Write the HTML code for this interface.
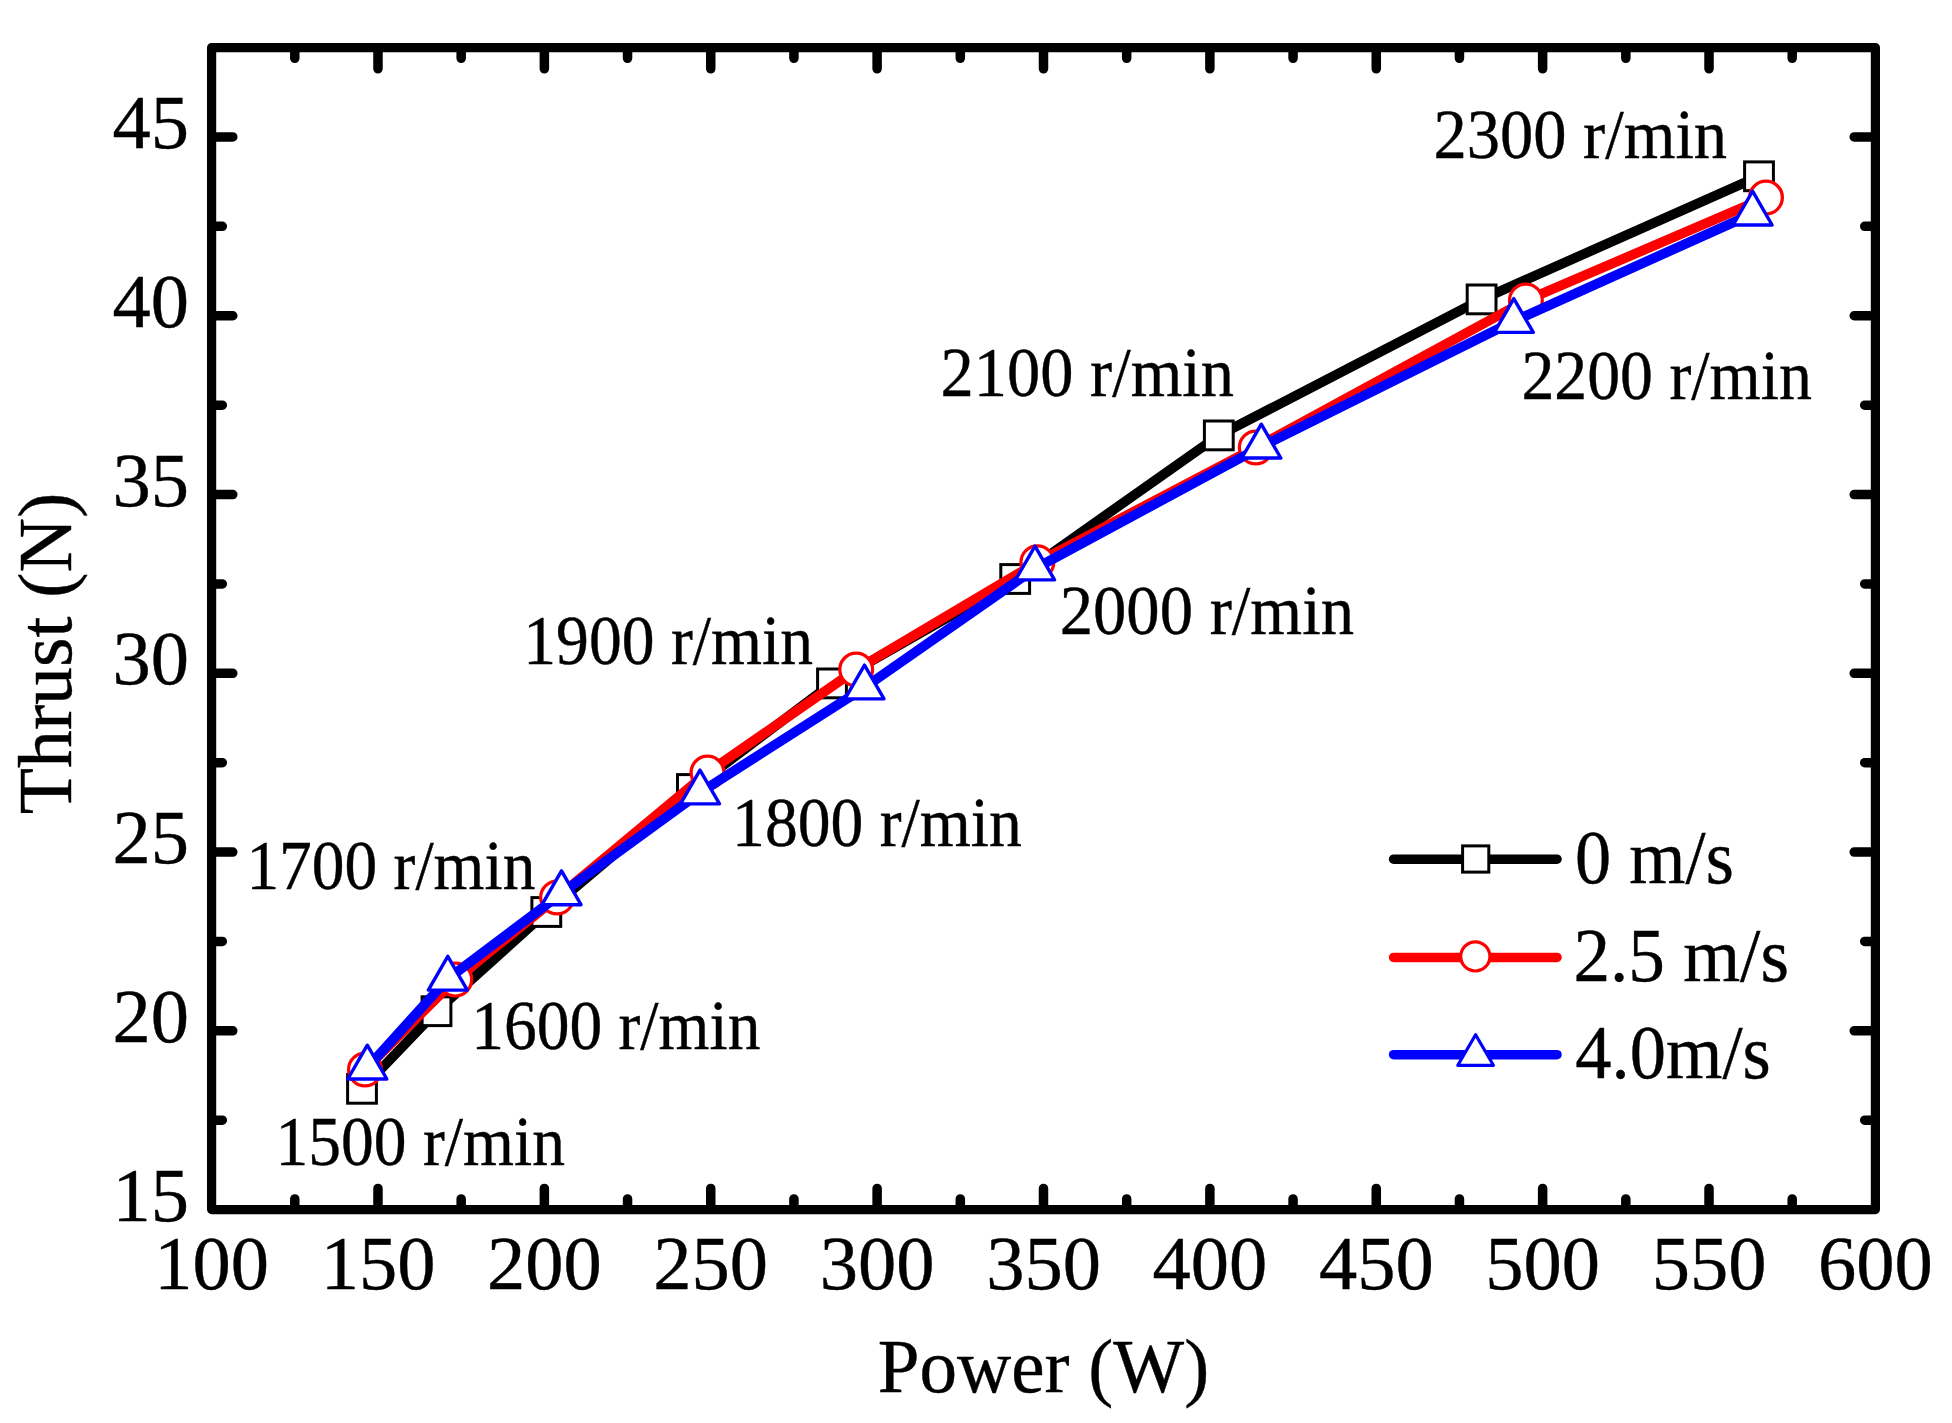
<!DOCTYPE html>
<html lang="en"><head><meta charset="utf-8"><title>Thrust vs Power</title>
<style>html,body{margin:0;padding:0;background:#fff}body{width:1952px;height:1423px;overflow:hidden}svg{display:block}text{font-family:"Liberation Serif","Times New Roman",serif;fill:#000;stroke:#000;stroke-width:0.4px}</style></head><body>
<svg width="1952" height="1423" viewBox="0 0 1952 1423">
<rect width="1952" height="1423" fill="#fff"/>
<g stroke="#000" stroke-width="9.5" stroke-linecap="round" fill="none">
<path d="M294.79 1208.60V1198.90M294.79 48.60V58.30"/>
<path d="M377.98 1208.60V1188.40M377.98 48.60V68.80"/>
<path d="M461.17 1208.60V1198.90M461.17 48.60V58.30"/>
<path d="M544.36 1208.60V1188.40M544.36 48.60V68.80"/>
<path d="M627.55 1208.60V1198.90M627.55 48.60V58.30"/>
<path d="M710.74 1208.60V1188.40M710.74 48.60V68.80"/>
<path d="M793.93 1208.60V1198.90M793.93 48.60V58.30"/>
<path d="M877.12 1208.60V1188.40M877.12 48.60V68.80"/>
<path d="M960.31 1208.60V1198.90M960.31 48.60V58.30"/>
<path d="M1043.50 1208.60V1188.40M1043.50 48.60V68.80"/>
<path d="M1126.69 1208.60V1198.90M1126.69 48.60V58.30"/>
<path d="M1209.88 1208.60V1188.40M1209.88 48.60V68.80"/>
<path d="M1293.07 1208.60V1198.90M1293.07 48.60V58.30"/>
<path d="M1376.26 1208.60V1188.40M1376.26 48.60V68.80"/>
<path d="M1459.45 1208.60V1198.90M1459.45 48.60V58.30"/>
<path d="M1542.64 1208.60V1188.40M1542.64 48.60V68.80"/>
<path d="M1625.83 1208.60V1198.90M1625.83 48.60V58.30"/>
<path d="M1709.02 1208.60V1188.40M1709.02 48.60V68.80"/>
<path d="M1792.21 1208.60V1198.90M1792.21 48.60V58.30"/>
<path d="M212.60 1120.22H222.30M1874.40 1120.22H1864.70"/>
<path d="M212.60 1030.83H232.80M1874.40 1030.83H1854.20"/>
<path d="M212.60 941.45H222.30M1874.40 941.45H1864.70"/>
<path d="M212.60 852.06H232.80M1874.40 852.06H1854.20"/>
<path d="M212.60 762.68H222.30M1874.40 762.68H1864.70"/>
<path d="M212.60 673.29H232.80M1874.40 673.29H1854.20"/>
<path d="M212.60 583.91H222.30M1874.40 583.91H1864.70"/>
<path d="M212.60 494.52H232.80M1874.40 494.52H1854.20"/>
<path d="M212.60 405.14H222.30M1874.40 405.14H1864.70"/>
<path d="M212.60 315.75H232.80M1874.40 315.75H1854.20"/>
<path d="M212.60 226.37H222.30M1874.40 226.37H1864.70"/>
<path d="M212.60 136.98H232.80M1874.40 136.98H1854.20"/>
</g>
<rect x="211.60" y="47.60" width="1663.80" height="1162.00" fill="none" stroke="#000" stroke-width="9.2" stroke-linejoin="round"/>
<g font-size="76.5" text-anchor="middle">
<text x="211.6" y="1289">100</text>
<text x="378.0" y="1289">150</text>
<text x="544.4" y="1289">200</text>
<text x="710.7" y="1289">250</text>
<text x="877.1" y="1289">300</text>
<text x="1043.5" y="1289">350</text>
<text x="1209.9" y="1289">400</text>
<text x="1376.3" y="1289">450</text>
<text x="1542.6" y="1289">500</text>
<text x="1709.0" y="1289">550</text>
<text x="1875.4" y="1289">600</text>
</g>
<g font-size="76.5" text-anchor="end">
<text x="189" y="1220.6">15</text>
<text x="189" y="1041.8">20</text>
<text x="189" y="863.1">25</text>
<text x="189" y="684.3">30</text>
<text x="189" y="505.5">35</text>
<text x="189" y="326.8">40</text>
<text x="189" y="148.0">45</text>
</g>
<polyline points="362.0,1088.8 436.5,1011.2 546.3,912.0 691.9,789.0 832.0,683.4 1015.2,579.0 1218.8,435.4 1481.6,299.4 1759.0,176.3" fill="none" stroke="#000" stroke-width="9.8" stroke-linejoin="round" stroke-linecap="round"/>
<g fill="#fff" stroke="#000" stroke-width="3">
<rect x="347.60" y="1074.40" width="28.80" height="28.80"/>
<rect x="422.10" y="996.80" width="28.80" height="28.80"/>
<rect x="531.90" y="897.60" width="28.80" height="28.80"/>
<rect x="677.50" y="774.60" width="28.80" height="28.80"/>
<rect x="817.60" y="669.00" width="28.80" height="28.80"/>
<rect x="1000.80" y="564.60" width="28.80" height="28.80"/>
<rect x="1204.40" y="421.00" width="28.80" height="28.80"/>
<rect x="1467.20" y="285.00" width="28.80" height="28.80"/>
<rect x="1744.60" y="161.90" width="28.80" height="28.80"/>
</g>
<polyline points="365.0,1069.5 455.3,979.6 557.1,897.5 707.5,772.6 856.2,669.6 1037.4,562.3 1255.8,447.5 1525.9,300.5 1766.0,197.6" fill="none" stroke="#f00" stroke-width="9.8" stroke-linejoin="round" stroke-linecap="round"/>
<g fill="#fff" stroke="#f00" stroke-width="3.2">
<circle cx="365.00" cy="1069.50" r="16.40"/>
<circle cx="455.30" cy="979.60" r="16.40"/>
<circle cx="557.10" cy="897.50" r="16.40"/>
<circle cx="707.50" cy="772.60" r="16.40"/>
<circle cx="856.20" cy="669.60" r="16.40"/>
<circle cx="1037.40" cy="562.30" r="16.40"/>
<circle cx="1255.80" cy="447.50" r="16.40"/>
<circle cx="1525.90" cy="300.50" r="16.40"/>
<circle cx="1766.00" cy="197.60" r="16.40"/>
</g>
<polyline points="367.3,1067.7 447.8,978.8 561.5,893.4 700.0,792.6 864.5,687.6 1035.0,568.6 1261.3,446.7 1513.8,321.1 1752.6,213.7" fill="none" stroke="#00f" stroke-width="9.8" stroke-linejoin="round" stroke-linecap="round"/>
<g fill="#fff" stroke="#00f" stroke-width="3.4" stroke-linejoin="round">
<path d="M367.30 1045.20L386.80 1079.00L347.80 1079.00Z"/>
<path d="M447.80 956.30L467.30 990.10L428.30 990.10Z"/>
<path d="M561.50 870.90L581.00 904.70L542.00 904.70Z"/>
<path d="M700.00 770.10L719.50 803.90L680.50 803.90Z"/>
<path d="M864.50 665.10L884.00 698.90L845.00 698.90Z"/>
<path d="M1035.00 546.10L1054.50 579.90L1015.50 579.90Z"/>
<path d="M1261.30 424.20L1280.80 458.00L1241.80 458.00Z"/>
<path d="M1513.80 298.60L1533.30 332.40L1494.30 332.40Z"/>
<path d="M1752.60 191.20L1772.10 225.00L1733.10 225.00Z"/>
</g>
<text transform="translate(275.52 1164.50) scale(0.9499 1)" font-size="69">1500 r/min</text>
<text transform="translate(471.25 1048.50) scale(0.9491 1)" font-size="69">1600 r/min</text>
<text transform="translate(246.39 889.30) scale(0.9483 1)" font-size="69">1700 r/min</text>
<text transform="translate(732.11 846.00) scale(0.9508 1)" font-size="69">1800 r/min</text>
<text transform="translate(523.30 663.90) scale(0.9507 1)" font-size="69">1900 r/min</text>
<text transform="translate(1059.69 633.80) scale(0.9659 1)" font-size="69">2000 r/min</text>
<text transform="translate(940.61 396.20) scale(0.9628 1)" font-size="69">2100 r/min</text>
<text transform="translate(1521.41 399.10) scale(0.9534 1)" font-size="69">2200 r/min</text>
<text transform="translate(1433.49 158.00) scale(0.9635 1)" font-size="69">2300 r/min</text>
<text transform="translate(1575.09 882.90) scale(0.9393 1)" font-size="77">0 m/s</text>
<text transform="translate(1573.40 980.90) scale(0.9508 1)" font-size="77">2.5 m/s</text>
<text transform="translate(1575.30 1078.00) scale(0.9421 1)" font-size="77">4.0m/s</text>
<text transform="translate(877.70 1392.10) scale(0.9945 1)" font-size="75.5">Power (W)</text>
<text transform="translate(70.50 814.13) rotate(-90) scale(1.0024 1)" font-size="75.5">Thrust (N)</text>
<line x1="1393.6" y1="859.2" x2="1557.0" y2="859.2" stroke="#000" stroke-width="9.5" stroke-linecap="round"/>
<line x1="1393.6" y1="957.4" x2="1557.0" y2="957.4" stroke="#f00" stroke-width="9.5" stroke-linecap="round"/>
<line x1="1393.6" y1="1054.7" x2="1557.0" y2="1054.7" stroke="#00f" stroke-width="9.5" stroke-linecap="round"/>
<g fill="#fff" stroke="#000" stroke-width="3">
<rect x="1462.60" y="845.90" width="26.20" height="26.20"/>
</g>
<g fill="#fff" stroke="#f00" stroke-width="3.2">
<circle cx="1475.30" cy="956.40" r="14.60"/>
</g>
<g fill="#fff" stroke="#00f" stroke-width="3.2" stroke-linejoin="round">
<path d="M1475.60 1034.70L1493.40 1065.30L1457.80 1065.30Z"/>
</g>
</svg></body></html>
